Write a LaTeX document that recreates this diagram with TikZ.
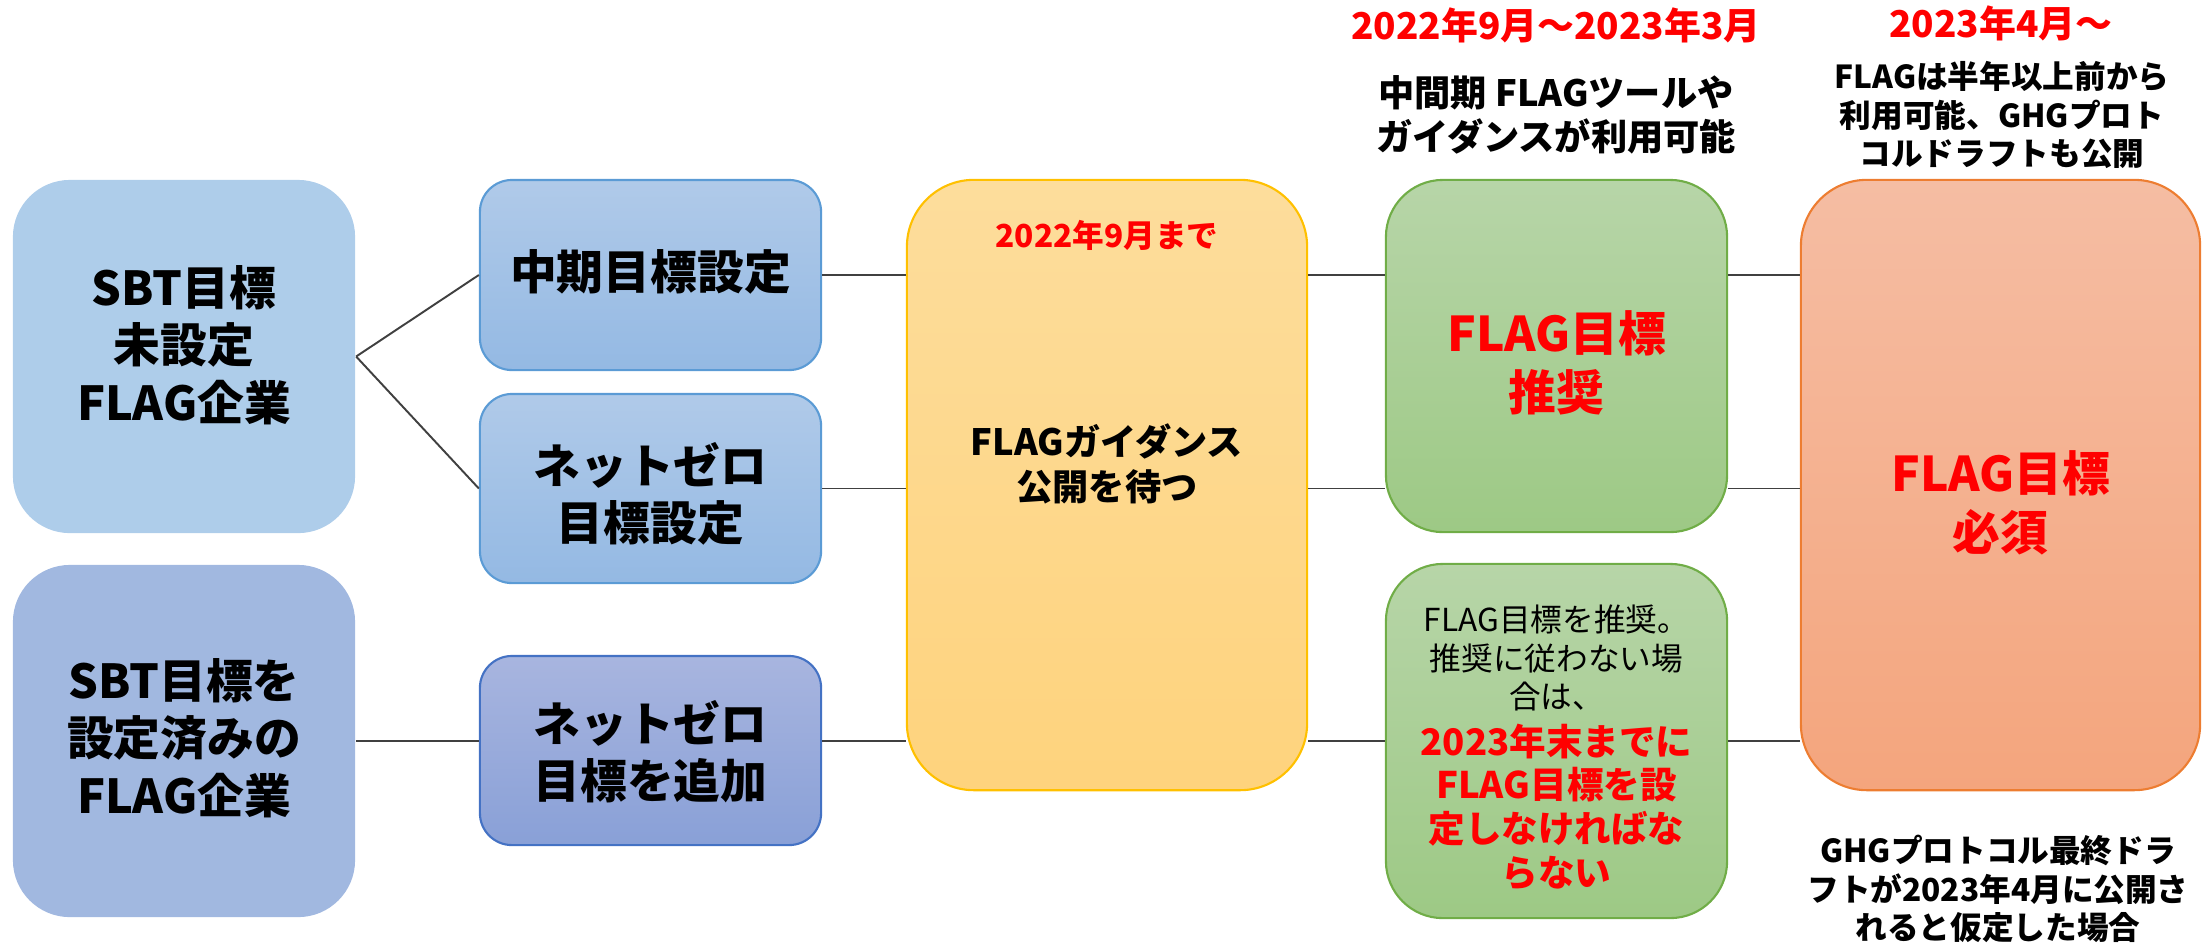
\documentclass[tikz,border=0pt]{standalone}
\usepackage{fontspec}
\setmainfont{Noto Sans CJK JP}
\definecolor{aFill}{RGB}{174,205,234}
\definecolor{aaFill}{RGB}{161,184,224}
\definecolor{bTop}{RGB}{176,202,233}
\definecolor{bBot}{RGB}{148,185,227}
\definecolor{bLine}{RGB}{91,155,213}
\definecolor{cTop}{RGB}{168,181,223}
\definecolor{cBot}{RGB}{137,160,215}
\definecolor{cLine}{RGB}{68,114,196}
\definecolor{yTop}{RGB}{253,221,156}
\definecolor{yBot}{RGB}{254,211,125}
\definecolor{yLine}{RGB}{255,192,0}
\definecolor{gTop}{RGB}{183,213,168}
\definecolor{gBot}{RGB}{157,201,133}
\definecolor{gLine}{RGB}{112,173,71}
\definecolor{oTop}{RGB}{245,189,163}
\definecolor{oBot}{RGB}{244,165,125}
\definecolor{oLine}{RGB}{237,125,49}
\definecolor{redT}{RGB}{255,0,0}
\definecolor{conC}{RGB}{64,64,64}
\begin{document}
\begin{tikzpicture}[x=0.01cm,y=-0.01cm,
  box/.style={rectangle, inner sep=0pt, line width=0.6pt},
  flat/.style={box, draw=none},
  conn/.style={draw=conC, line width=0.55pt},
  txt/.style={inner sep=0pt, align=center},
  bigb/.style={txt, font=\bfseries\fontsize{13.3pt}{16.3pt}\selectfont},
  bigr/.style={txt, text=redT, font=\bfseries\fontsize{13.6pt}{16.8pt}\selectfont},
  midb/.style={txt, font=\bfseries\fontsize{10.3pt}{12.6pt}\selectfont},
  smb/.style={txt, font=\bfseries\fontsize{9pt}{10.9pt}\selectfont},
  smr/.style={txt, font=\fontsize{9pt}{10.9pt}\selectfont},
  date/.style={txt, text=redT, font=\bfseries\fontsize{10.5pt}{12.6pt}\selectfont}
]
\useasboundingbox (0,0) rectangle (2204,944);

% boxes
\node[flat, fill=aFill, minimum width=3.42cm, minimum height=3.53cm, rounded corners=0.57cm] (A) at (184,356.5) {};
\node[flat, fill=aaFill, minimum width=3.42cm, minimum height=3.52cm, rounded corners=0.57cm] (A2) at (184,741) {};
\node[box, draw=bLine, top color=bTop, bottom color=bBot, minimum width=3.41cm, minimum height=1.90cm, rounded corners=0.32cm] (B1) at (650.5,275) {};
\node[box, draw=bLine, top color=bTop, bottom color=bBot, minimum width=3.41cm, minimum height=1.89cm, rounded corners=0.32cm] (B2) at (650.5,488.5) {};
\node[box, draw=cLine, top color=cTop, bottom color=cBot, minimum width=3.41cm, minimum height=1.89cm, rounded corners=0.32cm] (B3) at (650.5,750.5) {};
\node[box, draw=yLine, top color=yTop, bottom color=yBot, minimum width=4.00cm, minimum height=6.10cm, rounded corners=0.67cm] (C) at (1107,485) {};
\node[box, draw=gLine, top color=gTop, bottom color=gBot, minimum width=3.41cm, minimum height=3.52cm, rounded corners=0.57cm] (D1) at (1556.5,356) {};
\node[box, draw=gLine, top color=gTop, bottom color=gBot, minimum width=3.41cm, minimum height=3.54cm, rounded corners=0.57cm] (D2) at (1556.5,741) {};
\node[box, draw=oLine, top color=oTop, bottom color=oBot, minimum width=3.99cm, minimum height=6.10cm, rounded corners=0.66cm] (E) at (2000.5,485) {};

% connectors
\draw[conn] (A.east) -- (B1.west);
\draw[conn] (A.east) -- (B2.west);
\draw[conn] (A2.east) -- (A2.east -| B3.west);
\draw[conn] (B1.east) -- (B1.east -| C.west);
\draw[conn] (B1.east -| C.east) -- (B1.east -| D1.west);
\draw[conn] (B1.east -| D1.east) -- (B1.east -| E.west);
\draw[conn] (B2.east) -- (B2.east -| C.west);
\draw[conn] (B2.east -| C.east) -- (B2.east -| D1.west);
\draw[conn] (B2.east -| D1.east) -- (B2.east -| E.west);
\draw[conn] (A2.east -| B3.east) -- (A2.east -| C.west);
\draw[conn] (A2.east -| C.east) -- (D2.west);
\draw[conn] (D2.east) -- (D2.east -| E.west);

% box texts
\node[bigb] (tA) at (184,345) {SBT目標\\未設定\\FLAG企業};
\node[bigb] (tA2) at (184,738) {SBT目標を\\設定済みの\\FLAG企業};
\node[bigb] (tB1) at (650.5,272) {中期目標設定};
\node[bigb] (tB2) at (650.5,494) {ネットゼロ\\目標設定};
\node[bigb] (tB3) at (650.5,752) {ネットゼロ\\目標を追加};
\node[txt, text=redT, font=\bfseries\fontsize{9pt}{11pt}\selectfont] (tCd) at (1107,235) {2022年9月まで};
\node[midb] (tC) at (1107,464) {FLAGガイダンス\\公開を待つ};
\node[bigr] (tD1) at (1556.5,363) {FLAG目標\\推奨};
\node[bigr] (tE) at (2000.5,503) {FLAG目標\\必須};
\node[smr] (tD2a) at (1556.5,658) {FLAG目標を推奨。\\推奨に従わない場\\合は、};
\node[txt, text=redT, font=\bfseries\fontsize{10.4pt}{12.5pt}\selectfont] (tD2b) at (1556.5,807) {2023年末までに\\FLAG目標を設\\定しなければな\\らない};

% headings
\node[date] (h1) at (1556,25) {2022年9月～2023年3月};
\node[midb] (h1b) at (1556,115) {中間期 FLAGツールや\\ガイダンスが利用可能};
\node[date] (h2) at (2001,23) {2023年4月～};
\node[smb] (h2b) at (2002,115) {FLAGは半年以上前から\\利用可能、GHGプロト\\コルドラフトも公開};
\node[smb] (h3) at (1998,889) {GHGプロトコル最終ドラ\\フトが2023年4月に公開さ\\れると仮定した場合};
\end{tikzpicture}
\end{document}
